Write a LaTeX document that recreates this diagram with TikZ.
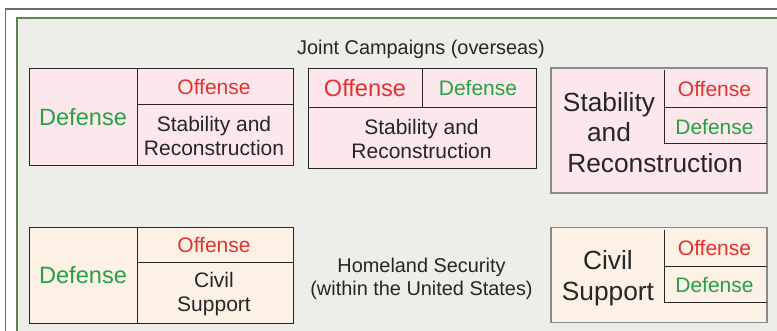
\documentclass[tikz,border=0pt]{standalone}
\usepackage{fontspec}
\setmainfont{Liberation Sans}
\definecolor{panelbg}{HTML}{EDEEE9}
\definecolor{framegray}{HTML}{6A6A6A}
\definecolor{framegreen}{HTML}{5E8552}
\definecolor{pinkfill}{HTML}{FCE8EC}
\definecolor{peachfill}{HTML}{FDF1E6}
\definecolor{offred}{HTML}{E4312F}
\definecolor{defgreen}{HTML}{25A244}
\definecolor{txtdark}{HTML}{262626}
\definecolor{boxgray}{HTML}{8A8A8A}

\begin{document}
\begin{tikzpicture}[x=1pt,y=-1pt,
	cellline/.style={draw=txtdark,line width=1pt},
	grayline/.style={draw=boxgray,line width=1.4pt},
	smalltxt/.style={font=\fontsize{21}{24}\selectfont,align=center,text=txtdark},
	midtxt/.style={font=\fontsize{23.6}{27}\selectfont,align=center},
	bigtxt/.style={font=\fontsize{26.3}{30.8}\selectfont,align=center,text=txtdark},
	lbltxt/.style={font=\fontsize{19.9}{23}\selectfont,align=center,text=txtdark}]
		\useasboundingbox (0,0) rectangle (777,330);
		\clip (0,0) rectangle (777,330);
		\fill [white] (0,0) rectangle (777,330);
		\fill [panelbg] (17,18) rectangle (800,350);
		\draw [framegray,line width=2pt] (5,8.5) -- (800,8.5);
		\draw [framegray,line width=1.2pt] (5.5,8) -- (5.5,350);
		\draw [framegreen,line width=2.2pt] (17,350) -- (17,18) -- (800,18);
		% joint campaigns, overseas
		\node [lbltxt] (jointlbl) at (421,49.5) {Joint Campaigns (overseas)};
		\draw [cellline,fill=pinkfill] (29,68) rectangle (293,165);
		\draw [cellline] (137,68) -- (137,165);
		\draw [cellline] (137,104) -- (293,104);
		\node [midtxt,text=defgreen] (odef) at (83,117) {Defense};
		\node [smalltxt,text=offred] (ooff) at (214,87) {Offense};
		\node [smalltxt] (ostab) at (214,135.5) {Stability and\\Reconstruction};
		\draw [cellline,fill=pinkfill] (308,68.5) rectangle (536,168);
		\draw [cellline] (422,68.5) -- (422,107.5);
		\draw [cellline] (308,107.5) -- (536,107.5);
		\node [midtxt,text=offred] (moff) at (365,88) {Offense};
		\node [smalltxt,text=defgreen] (mdef) at (478,88) {Defense};
		\node [smalltxt] (mstab) at (421.5,139) {Stability and\\Reconstruction};
		\draw [grayline,fill=pinkfill] (551,68) rectangle (767,193);
		\draw [cellline] (664,70) -- (664,143.5);
		\draw [cellline] (664,107.7) -- (767,107.7);
		\draw [cellline] (664,143.5) -- (767,143.5);
		\node [bigtxt] (rstab) at (609,117) {Stability\\and};
		\node [bigtxt] (rrec) at (655,163) {Reconstruction};
		\node [smalltxt,text=offred] (roff) at (714.5,89) {Offense};
		\node [smalltxt,text=defgreen] (rdef) at (714.5,126.5) {Defense};
		% homeland security, within the US
		\node [lbltxt] (homelbl) at (421.5,278.5) {Homeland Security\\(within the United States)};
		\draw [cellline,fill=peachfill] (29,227) rectangle (293,323);
		\draw [cellline] (137,227) -- (137,323);
		\draw [cellline] (137,262) -- (293,262);
		\node [midtxt,text=defgreen] (hdef) at (83,275) {Defense};
		\node [smalltxt,text=offred] (hoff) at (214,245) {Offense};
		\node [smalltxt] (hciv) at (214,294) {Civil\\Support};
		\draw [grayline,fill=peachfill] (551,227.5) rectangle (767,322.5);
		\draw [cellline] (664.5,230) -- (664.5,302.5);
		\draw [cellline] (664.5,266.7) -- (767,266.7);
		\draw [cellline] (664.5,302.5) -- (767,302.5);
		\node [bigtxt] (sciv) at (608,278) {Civil\\Support};
		\node [smalltxt,text=offred] (soff) at (714.5,247.5) {Offense};
		\node [smalltxt,text=defgreen] (sdef) at (714.5,285) {Defense};
	\end{tikzpicture}
\end{document}
